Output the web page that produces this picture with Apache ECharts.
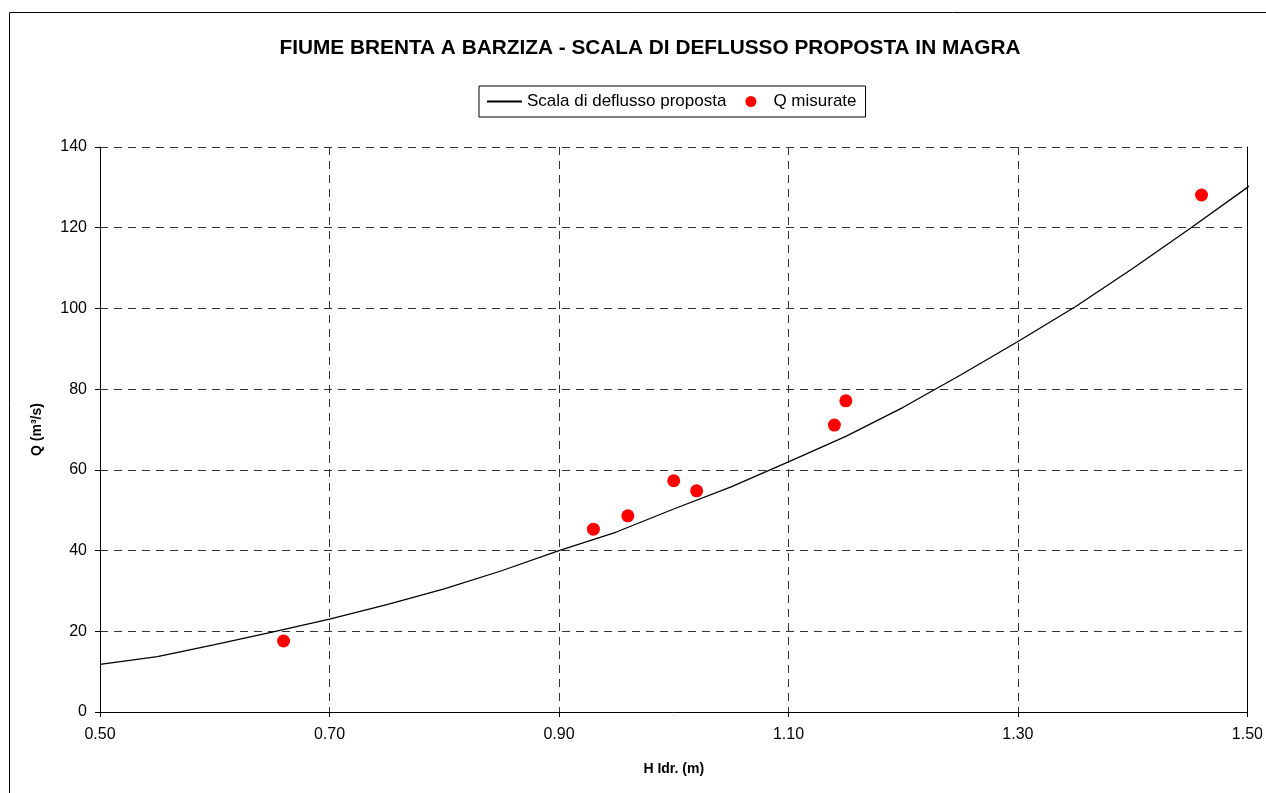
<!DOCTYPE html>
<html>
<head>
<meta charset="utf-8">
<script src="https://cdn.jsdelivr.net/npm/echarts@6/dist/echarts.min.js"></script>
<style>
  html, body { margin: 0; padding: 0; background: #fff; }
  #chart { width: 1266px; height: 793px; }
</style>
</head>
<body>
<div id="chart"></div>
<script>
  // scala di deflusso
  var curveH = [0.50, 0.55, 0.60, 0.65, 0.70, 0.75, 0.80, 0.85, 0.90, 0.95, 1.00, 1.05, 1.10, 1.15, 1.20, 1.25, 1.30, 1.35, 1.40, 1.45, 1.50, 1.507]
  var curveQ = [11.8, 13.7, 16.7, 19.8, 23.0, 26.6, 30.5, 35.0, 40.0, 44.6, 50.3, 55.8, 62.0, 68.3, 75.5, 83.5, 91.8, 100.4, 109.9, 119.8, 130.0, 131.6]
  // portate misurate
  var measH = [0.66, 0.93, 0.96, 1.00, 1.02, 1.14, 1.15, 1.46]
  var measQ = [17.6, 45.3, 48.6, 57.3, 54.8, 71.1, 77.1, 128.1]

  var font = 'Liberation Sans, Arial, sans-serif'
  var myChart = echarts.init(document.getElementById('chart'), null, {renderer: 'canvas'})

  var chartOption = {
    backgroundColor: '#fff',
    animation: false,
    title: {
      text: 'FIUME BRENTA A BARZIZA - SCALA DI DEFLUSSO PROPOSTA IN MAGRA',
      left: 645,
      textAlign: 'center',
      top: 33,
      textStyle: {color: '#000', fontSize: 20.8, fontWeight: 'bold', fontFamily: font}
    },
    legend: {
      left: 479,
      top: 86,
      padding: [7, 9, 7, 7],
      borderColor: '#000',
      borderWidth: 1,
      itemGap: 19,
      itemWidth: 35,
      itemHeight: 11,
      textStyle: {color: '#000', fontSize: 17, fontFamily: font},
      data: [
        {name: 'Scala di deflusso proposta'},
        {name: 'Q misurate', icon: 'circle'}
      ]
    },
    graphic: [{
      type: 'rect',
      shape: {x: 9.5, y: 12.5, width: 1300, height: 820},
      style: {fill: null, stroke: '#000', lineWidth: 1},
      silent: true
    }],
    grid: {left: 100, top: 147, width: 1148, height: 565},
    xAxis: {
      type: 'value',
      min: 0.5,
      max: 1.5,
      interval: 0.2,
      name: 'H Idr. (m)',
      nameLocation: 'middle',
      nameGap: 50,
      nameTextStyle: {color: '#000', fontSize: 14, fontWeight: 'bold', fontFamily: font},
      axisLine: {show: true, lineStyle: {color: '#000', width: 1}},
      axisTick: {show: true, inside: false, length: 5, lineStyle: {color: '#000'}},
      axisLabel: {
        color: '#000', fontSize: 16, fontFamily: font, margin: 15,
        formatter: function (v) { return v.toFixed(2) }
      },
      splitLine: {show: true, lineStyle: {color: '#333', type: [8, 6], width: 1}}
    },
    yAxis: [{
      type: 'value',
      min: 0,
      max: 140,
      interval: 20,
      name: 'Q (m³/s)',
      nameLocation: 'middle',
      nameRotate: 90,
      nameGap: 56,
      nameTextStyle: {color: '#000', fontSize: 14, fontWeight: 'bold', fontFamily: font},
      axisLine: {show: true, lineStyle: {color: '#000', width: 1}},
      axisTick: {show: true, length: 5, lineStyle: {color: '#000'}},
      axisLabel: {color: '#000', fontSize: 16, fontFamily: font, margin: 13},
      splitLine: {show: true, lineStyle: {color: '#333', type: [8, 6], width: 1}}
    }, {
      type: 'value',
      position: 'right',
      min: 0,
      max: 140,
      interval: 20,
      axisLine: {show: true, lineStyle: {color: '#000', width: 1}},
      axisTick: {show: false},
      axisLabel: {show: false},
      splitLine: {show: false}
    }],
    series: [
      {
        name: 'Scala di deflusso proposta',
        type: 'line',
        symbol: 'none',
        clip: false,
        lineStyle: {color: '#000', width: 1.3},
        itemStyle: {color: '#000', opacity: 0},
        data: curveH.map(function (h, i) { return [h, curveQ[i]] })
      },
      {
        name: 'Q misurate',
        type: 'scatter',
        symbol: 'circle',
        symbolSize: 13,
        itemStyle: {color: '#ff0000', opacity: 1},
        data: measH.map(function (h, i) { return [h, measQ[i]] })
      }
    ]
  }
  myChart.setOption(chartOption)
</script>
</body>
</html>
